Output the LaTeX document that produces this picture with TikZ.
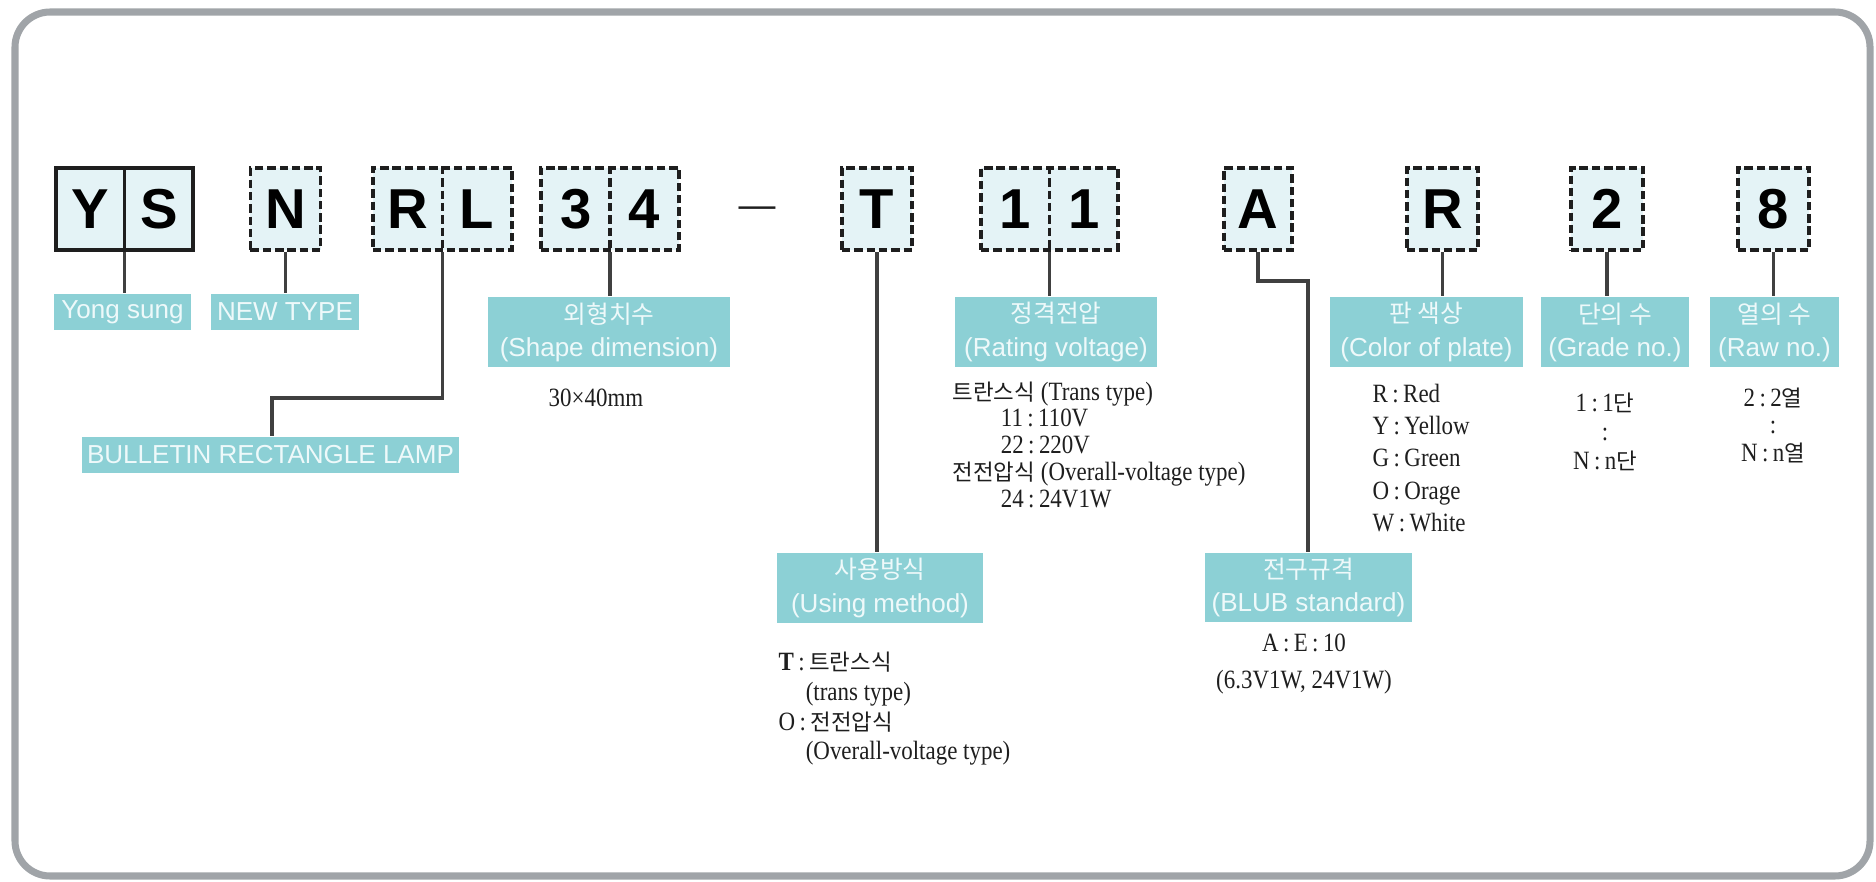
\documentclass[tikz,border=0pt]{standalone}
\usepackage{fontspec}
\setmainfont{Liberation Serif}[FakeStretch=0.87]
\newfontfamily\sansfont{Liberation Sans}
\newfontfamily\kr[Scale=0.95]{Noto Sans CJK KR}
\newfontfamily\krb[Scale=0.85]{Noto Sans CJK KR}
\usetikzlibrary{positioning}

\definecolor{boxfill}{RGB}{228,243,246}
\definecolor{tagfill}{RGB}{140,208,213}
\definecolor{tagtext}{RGB}{238,249,250}
\definecolor{framegray}{RGB}{160,164,168}
\definecolor{ink}{RGB}{30,30,30}

\newcommand{\cellpair}[2]{\makebox[0.685cm]{#1}\makebox[0.685cm]{#2}}

\begin{document}
\begin{tikzpicture}[x=0.01cm,y=-0.01cm,
  code/.style={draw=ink,line width=1.1pt,dash pattern=on 2.4pt off 1.1pt,fill=boxfill,
    inner sep=0pt,minimum width=0.70cm,minimum height=0.82cm,
    font=\sansfont\bfseries\fontsize{16}{18}\selectfont},
  fixed/.style={code,solid},
  divider/.style={draw=ink,line width=1.1pt,dash pattern=on 2.4pt off 1.1pt},
  tag/.style={fill=tagfill,text=tagtext,inner sep=0pt,align=center,
    font=\sansfont\fontsize{7.4}{9.4}\selectfont},
  wire/.style={draw=ink!85,line width=1.1pt},
  note/.style={inner sep=0pt,text=ink,font=\fontsize{7.5}{8.5}\selectfont}]

  % Rahmen
  \useasboundingbox (0,0) rectangle (1876,882);
  \draw[line width=2pt,framegray,rounded corners=10pt] (15,12) rectangle (1870,876);

  % Code
  \node[fixed,minimum width=1.37cm] (ys) at (124.5,209) {\cellpair{Y}{S}};
  \draw[ink,line width=1.1pt] (ys.north) -- (ys.south);
  \node[code] (n) at (285.5,209) {N};
  \node[code,minimum width=1.39cm] (rl) at (442.5,209) {\cellpair{R}{L}};
  \draw[divider] (rl.north) -- (rl.south);
  \node[code,minimum width=1.38cm] (dim) at (610,209) {\cellpair{3}{4}};
  \draw[divider] (dim.north) -- (dim.south);
  \node[inner sep=0pt,text=ink,font=\sansfont\fontsize{10.5}{12}\selectfont] (dash) at (757,212) {—};
  \node[code] (t) at (877,209) {T};
  \node[code,minimum width=1.37cm] (volt) at (1049.5,209) {\cellpair{1}{1}};
  \draw[divider] (volt.north) -- (volt.south);
  \node[code,minimum width=0.68cm] (a) at (1258,209) {A};
  \node[code,minimum width=0.71cm] (r) at (1442.5,209) {R};
  \node[code,minimum width=0.72cm] (grade) at (1607,209) {2};
  \node[code,minimum width=0.71cm] (row) at (1773.5,209) {8};

  % Beschriftung
  \node[tag,minimum width=1.37cm,minimum height=0.36cm] (yong) at (122.5,312) {Yong sung};
  \node[tag,minimum width=1.48cm,minimum height=0.36cm] (newtype) at (285,312) {NEW TYPE};
  \node[tag,minimum width=3.77cm,minimum height=0.36cm] (lamp) at (270.5,455) {BULLETIN RECTANGLE LAMP};
  \node[tag,minimum width=2.42cm,minimum height=0.70cm] (shape) at (609,332) {{\kr 외형치수}\\(Shape dimension)};
  \node[tag,minimum width=2.02cm,minimum height=0.70cm] (rating) at (1056,332) {{\kr 정격전압}\\(Rating voltage)};
  \node[tag,minimum width=2.06cm,minimum height=0.70cm] (using) at (880,588) {{\kr 사용방식}\\(Using method)};
  \node[tag,minimum width=2.07cm,minimum height=0.69cm] (bulb) at (1308.5,587.5) {{\kr 전구규격}\\(BLUB standard)};
  \node[tag,minimum width=1.93cm,minimum height=0.70cm] (plate) at (1426.5,332) {{\kr 판 색상}\\(Color of plate)};
  \node[tag,minimum width=1.48cm,minimum height=0.70cm] (gradeno) at (1615,332) {{\kr 단의 수}\\(Grade no.)};
  \node[tag,minimum width=1.29cm,minimum height=0.70cm] (rowno) at (1774.5,332) {{\kr 열의 수}\\(Raw no.)};

  % Verbindungen
  \coordinate (rlbend) at (272,398);
  \coordinate (abend) at (1308,281);
  \draw[wire] (ys.south) -- (ys.south |- yong.north);
  \draw[wire] (n.south) -- (n.south |- newtype.north);
  \draw[wire] (rl.south) |- (rlbend) -- (rlbend |- lamp.north);
  \draw[wire] (dim.south) -- (dim.south |- shape.north);
  \draw[wire] (t.south) -- (t.south |- using.north);
  \draw[wire] (volt.south) -- (volt.south |- rating.north);
  \draw[wire] (a.south) |- (abend) -- (abend |- bulb.north);
  \draw[wire] (r.south) -- (r.south |- plate.north);
  \draw[wire] (grade.south) -- (grade.south |- gradeno.north);
  \draw[wire] (row.south) -- (row.south |- rowno.north);

  % Werte
  \node[note] (dimtxt) at (596,398) {30×40mm};
  \node[note,anchor=north west,align=left,font=\fontsize{7.5}{7.6}\selectfont] (volttxt) at (952,381)
    {{\krb 트란스식} (Trans type)\\\hspace*{13.7pt}11\,:\,110V\\\hspace*{13.7pt}22\,:\,220V\\
     {\krb 전전압식} (Overall-voltage type)\\\hspace*{13.7pt}24\,:\,24V1W};
  \node[note,anchor=north west,align=left] (usetxt) at (778,651)
    {\textbf{T}\,:\,{\krb 트란스식}\\\hspace*{7.7pt}(trans type)\\O\,:\,{\krb 전전압식}\\\hspace*{7.7pt}(Overall-voltage type)};
  \node[note,anchor=north,align=center,font=\fontsize{7.5}{10.5}\selectfont] (bulbtxt) at (1304,633)
    {A\,:\,E\,:\,10\\(6.3V1W, 24V1W)};
  \node[note,anchor=north west,align=left,font=\fontsize{7.5}{9.2}\selectfont] (platetxt) at (1372,383)
    {R\,:\,Red\\Y\,:\,Yellow\\G\,:\,Green\\O\,:\,Orage\\W\,:\,White};
  \node[note,anchor=north,align=center,font=\fontsize{7.5}{8.3}\selectfont] (gradetxt) at (1605,392)
    {1\,:\,1{\krb 단}\\:\\N\,:\,n{\krb 단}};
  \node[note,anchor=north,align=center,font=\fontsize{7.5}{7.8}\selectfont] (rowtxt) at (1773,387)
    {2\,:\,2{\krb 열}\\:\\N\,:\,n{\krb 열}};
\end{tikzpicture}
\end{document}
